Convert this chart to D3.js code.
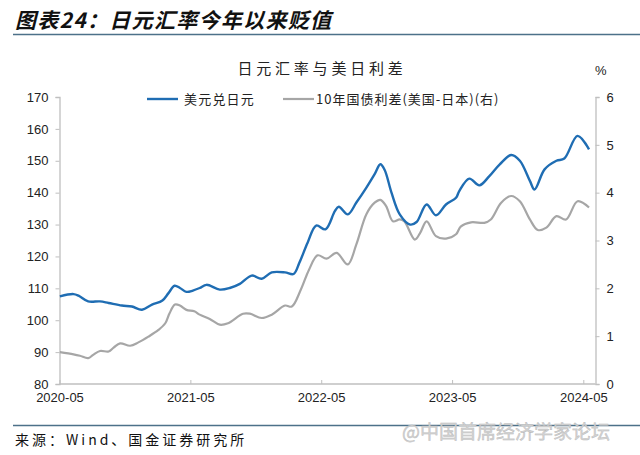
<!DOCTYPE html>
<html><head><meta charset="utf-8">
<script src="https://cdn.jsdelivr.net/npm/d3@7"></script>
<style>
html,body{margin:0;padding:0;background:#fff;}
svg{display:block;}
</style></head>
<body>
<svg id="c" width="640" height="455"></svg>
<script>
// ---- data ----
const usdjpyDates = ["2020-05-02","2020-06-09","2020-06-23","2020-07-20","2020-08-22","2020-09-15","2020-10-22","2020-11-19","2020-12-17","2021-01-14","2021-02-12","2021-03-01","2021-03-18","2021-04-02","2021-04-20","2021-05-08","2021-05-27","2021-06-15","2021-07-22","2021-08-19","2021-09-16","2021-10-19","2021-11-16","2021-12-14","2022-01-20","2022-02-13","2022-03-01","2022-03-24","2022-04-17","2022-05-13","2022-06-08","2022-06-19","2022-07-14","2022-08-07","2022-09-04","2022-09-27","2022-10-13","2022-10-25","2022-11-13","2022-12-06","2023-01-04","2023-01-22","2023-02-19","2023-03-17","2023-04-14","2023-05-12","2023-05-21","2023-06-18","2023-07-16","2023-08-13","2023-09-11","2023-10-13","2023-11-06","2023-12-04","2023-12-17","2024-01-14","2024-02-16","2024-03-09","2024-04-15","2024-05-17"];
const usdjpyValues = [107.5,108.2,107.7,105.9,105.9,105.4,104.6,104.3,103.3,104.9,106.2,108.5,110.8,110.1,108.9,109.3,110.1,111.1,109.6,110.1,111.4,114.0,113.0,115.0,115.0,114.5,118.0,124.3,129.7,128.5,134.2,135.6,133.2,136.9,141.6,145.8,148.9,147.1,140.0,133.2,130.0,130.8,136.3,132.9,136.3,138.4,140.5,144.4,142.3,145.2,148.9,151.8,150.0,143.7,141.0,147.3,150.0,150.7,157.8,153.6];

const spreadDates = ["2020-05-02","2020-06-09","2020-06-27","2020-07-20","2020-08-03","2020-08-22","2020-09-15","2020-09-29","2020-10-17","2020-11-14","2020-12-07","2021-01-04","2021-02-01","2021-02-20","2021-03-04","2021-03-19","2021-04-02","2021-04-20","2021-05-12","2021-05-27","2021-06-24","2021-07-22","2021-08-14","2021-09-25","2021-10-14","2021-11-16","2021-12-14","2022-01-20","2022-02-08","2022-03-05","2022-03-28","2022-04-21","2022-05-16","2022-06-13","2022-07-14","2022-08-07","2022-09-04","2022-09-27","2022-10-13","2022-10-29","2022-11-17","2022-12-06","2022-12-19","2023-01-17","2023-02-01","2023-02-19","2023-03-17","2023-04-14","2023-05-12","2023-05-25","2023-06-23","2023-07-30","2023-08-17","2023-09-15","2023-10-13","2023-11-06","2023-12-04","2023-12-26","2024-01-19","2024-02-16","2024-03-14","2024-04-15","2024-05-17"];
const spreadValues = [0.665,0.62,0.59,0.54,0.61,0.69,0.68,0.76,0.85,0.80,0.87,0.99,1.13,1.27,1.48,1.66,1.64,1.55,1.52,1.45,1.36,1.24,1.27,1.47,1.47,1.38,1.45,1.64,1.62,1.97,2.39,2.69,2.62,2.74,2.50,2.92,3.55,3.79,3.85,3.72,3.40,3.44,3.40,3.02,3.16,3.40,3.09,3.04,3.13,3.29,3.38,3.37,3.44,3.79,3.93,3.82,3.44,3.22,3.27,3.51,3.44,3.82,3.69];

const xTickLabels = ["2020-05","2021-05","2022-05","2023-05","2024-05"];
const leftTicks = [80,90,100,110,120,130,140,150,160,170];
const rightTicks = [0,1,2,3,4,5,6];

const figTitle = "图表24：日元汇率今年以来贬值";
const chartTitle = "日元汇率与美日利差";
const seriesNames = ["美元兑日元","10年国债利差(美国-日本)(右)"];
const sourceText = "来源：Wind、国金证券研究所";
const watermark = "@中国首席经济学家论坛";

// ---- drawing ----
const svg = d3.select("#c");
const parse = d3.timeParse("%Y-%m-%d");
const parseM = d3.timeParse("%Y-%m");
const L = 59.5, R = 595.5, T = 97, B = 384;
const x = d3.scaleTime().domain([parseM("2020-05"), parseM("2024-05")]).range([L, 583.3]);
const yL = d3.scaleLinear().domain([80,170]).range([B, T]);
const yR = d3.scaleLinear().domain([0,6]).range([B, T]);
const cjk = "'Noto Sans CJK SC','Noto Sans',sans-serif";
const lat = "'Liberation Sans',Arial,sans-serif";
const axisCol = "#bfbfbf";

// headers
svg.append("text").attr("x",15).attr("y",28).text(figTitle)
  .attr("font-family",cjk).attr("font-size",21).attr("font-weight","bold")
  .attr("font-style","italic").attr("fill","#111").attr("letter-spacing",1.3);
svg.append("line").attr("x1",13).attr("x2",640).attr("y1",34.5).attr("y2",34.5)
  .attr("stroke","#4d7189").attr("stroke-width",1.5);
svg.append("text").attr("x",322).attr("y",74).attr("text-anchor","middle").text(chartTitle)
  .attr("font-family",cjk).attr("font-size",15).attr("fill","#222").attr("letter-spacing",3.8);
svg.append("text").attr("x",595).attr("y",75).text("%")
  .attr("font-family",lat).attr("font-size",13).attr("fill","#222");

// axes
const gL = svg.append("g").attr("transform",`translate(${L},0)`)
  .call(d3.axisLeft(yL).tickValues(leftTicks).tickSize(4).tickPadding(7));
const gR = svg.append("g").attr("transform",`translate(${R},0)`)
  .call(d3.axisRight(yR).tickValues(rightTicks).tickFormat(d3.format("d")).tickSize(4).tickPadding(7));
const gX = svg.append("g").attr("transform",`translate(0,${B})`)
  .call(d3.axisBottom(x).tickValues(xTickLabels.map(parseM)).tickFormat(d3.timeFormat("%Y-%m")).tickSize(-4).tickPadding(9));
gX.select(".domain").attr("d",`M${L},0H${R}`);
[gL,gR,gX].forEach(g=>{
  g.selectAll(".domain").attr("stroke",axisCol).attr("stroke-width",1.3);
  g.selectAll(".tick line").attr("stroke",axisCol).attr("stroke-width",1);
  g.selectAll(".tick text").attr("font-family",lat).attr("font-size",13).attr("fill","#222");
});
gX.selectAll(".tick text").attr("dy","0.71em");

// lines
const blue = usdjpyDates.map((d,i)=>({d:parse(d),v:usdjpyValues[i]}));
const gray = spreadDates.map((d,i)=>({d:parse(d),v:spreadValues[i]}));
svg.append("path").datum(gray).attr("fill","none").attr("stroke","#a6a6a6").attr("stroke-width",2.2)
  .attr("d",d3.line().x(p=>x(p.d)).y(p=>yR(p.v)).curve(d3.curveCatmullRom.alpha(0.5)));
svg.append("path").datum(blue).attr("fill","none").attr("stroke","#1f6db3").attr("stroke-width",2.4)
  .attr("d",d3.line().x(p=>x(p.d)).y(p=>yL(p.v)).curve(d3.curveCatmullRom.alpha(0.5)));

// legend
const lg = svg.append("g");
lg.append("line").attr("x1",147).attr("x2",178).attr("y1",99).attr("y2",99).attr("stroke","#1f6db3").attr("stroke-width",2.4);
lg.append("text").attr("x",184).attr("y",104).text(seriesNames[0])
  .attr("font-family",cjk).attr("font-size",13).attr("fill","#222").attr("letter-spacing",1.2);
lg.append("line").attr("x1",283).attr("x2",314).attr("y1",99).attr("y2",99).attr("stroke","#a6a6a6").attr("stroke-width",2.2);
lg.append("text").attr("x",316).attr("y",104).text(seriesNames[1])
  .attr("font-family",cjk).attr("font-size",13).attr("fill","#222").attr("letter-spacing",1);

// footer
svg.append("line").attr("x1",13).attr("x2",640).attr("y1",425.5).attr("y2",425.5)
  .attr("stroke","#4d7189").attr("stroke-width",1.5);
svg.append("text").attr("x",15).attr("y",445).text(sourceText)
  .attr("font-family",cjk).attr("font-size",14).attr("fill","#111").attr("letter-spacing",3);
svg.append("text").attr("x",402).attr("y",439).text(watermark)
  .attr("font-family",cjk).attr("font-size",19).attr("fill","#d4d4d4")
  .attr("stroke","#b8b8b8").attr("stroke-width",0.4);
</script>
</body></html>
